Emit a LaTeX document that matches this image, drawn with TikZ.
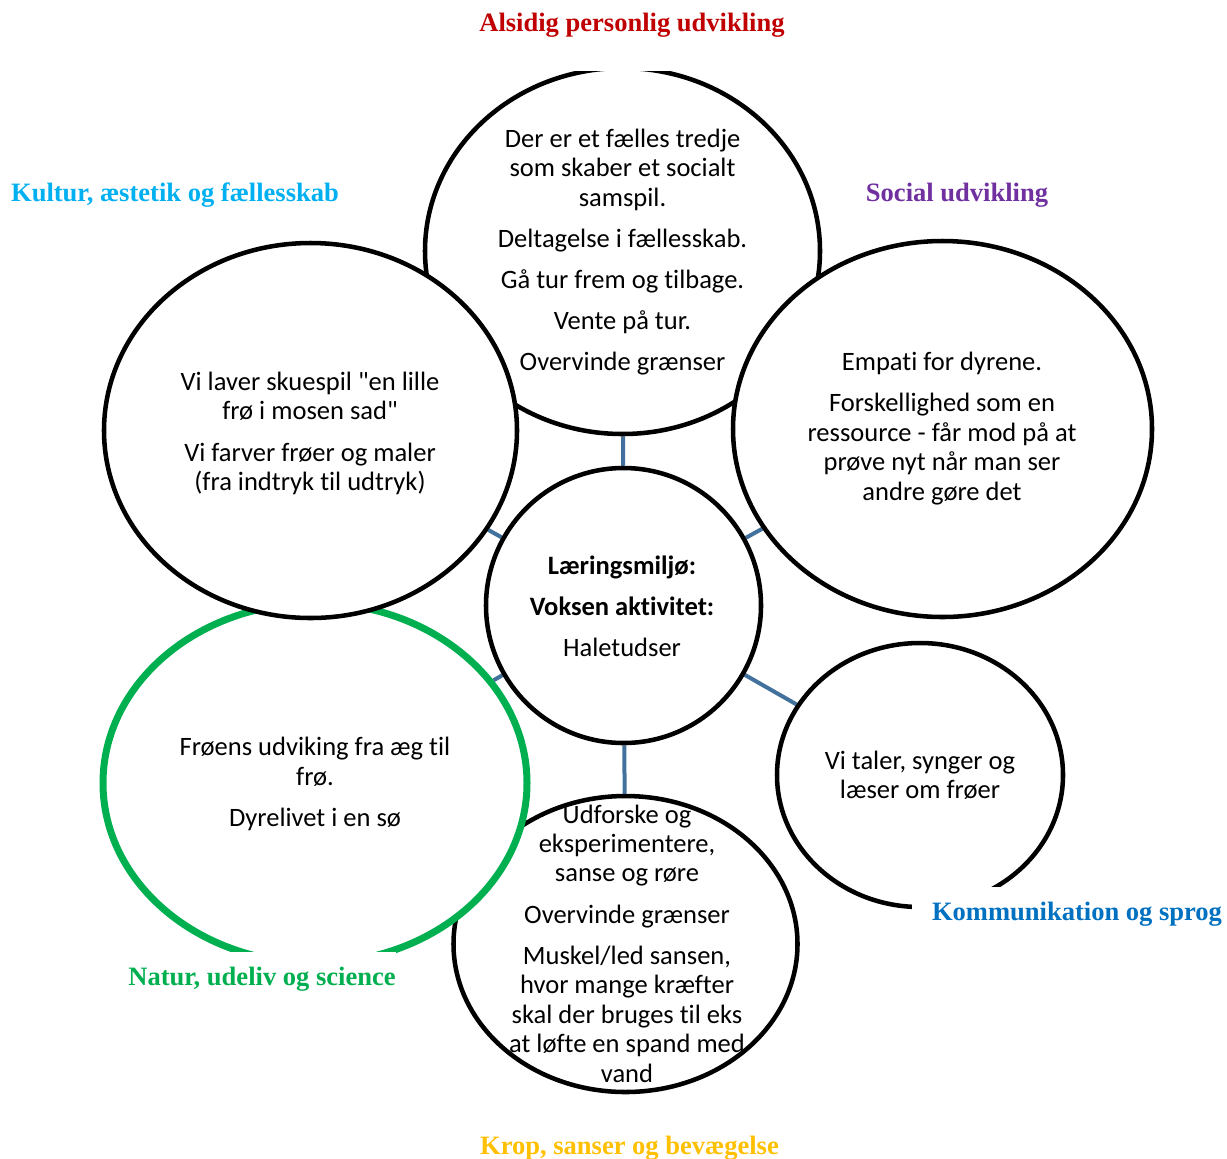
\documentclass[tikz,border=0pt]{standalone}
\usepackage{fontspec}
\setmainfont{Carlito}[Ligatures=NoCommon]
\newfontfamily\lblfont{Liberation Serif}
\usetikzlibrary{shapes.geometric,backgrounds}
\definecolor{lblred}{HTML}{C00000}
\definecolor{lblcyan}{HTML}{00B0F0}
\definecolor{lblpurple}{HTML}{7030A0}
\definecolor{lblblue}{HTML}{0070C0}
\definecolor{lblgreen}{HTML}{00B050}
\definecolor{lblgold}{HTML}{FFC000}
\definecolor{spokeblue}{HTML}{41719C}
\tikzset{every picture/.style={line width=0.75pt}}
\tikzset{
  bubble/.style={ellipse, draw=black, fill=white, line width=3.4pt, inner sep=0pt},
  bubbletxt/.style={align=center, inner sep=0pt, font=\fontsize{19.9}{22.1}\selectfont},
  spoke/.style={draw=spokeblue, line width=3pt},
  lbl/.style={font=\lblfont\bfseries\fontsize{19.9}{24}\selectfont, fill=white, inner sep=0pt, minimum height=40.5pt}
}

\begin{document}
\begin{tikzpicture}[x=0.75pt,y=0.75pt,yscale=-1,xscale=1]
\useasboundingbox (0,0) rectangle (1227,1158);

%Shape: Ellipse [alsidig]
\node[bubble, minimum width=296.25pt, minimum height=274.5pt] (alsidig) at (622.5,251) {};
%Shape: Ellipse [krop]
\node[bubble, minimum width=258pt, minimum height=222pt] (krop) at (625.5,944) {};
%Shape: Ellipse [natur]
\node[bubble, draw=lblgreen, line width=5.25pt, minimum width=318pt, minimum height=270pt] (natur) at (315,783) {};
%Shape: Ellipse [kultur]
\node[bubble, minimum width=309.75pt, minimum height=281.25pt] (kultur) at (310.5,430.5) {};
%Shape: Ellipse [social]
\node[bubble, minimum width=314.25pt, minimum height=282pt] (social) at (942.5,429) {};
%Shape: Circle [hub]
\node[bubble, minimum width=206.25pt, minimum height=206.25pt] (hub) at (623.5,605.5) {};
%Shape: Ellipse [komm]
\node[bubble, minimum width=214.5pt, minimum height=198pt] (komm) at (920,775) {};

%Straight Lines
\begin{scope}[on background layer]
\draw[spoke] (hub) -- (alsidig);
\draw[spoke] (hub) -- (kultur);
\draw[spoke] (hub) -- (social);
\draw[spoke] (hub) -- (natur);
\draw[spoke] (hub) -- (komm);
\draw[spoke] (hub) -- (krop);
\end{scope}

% Text Node
\node[bubbletxt] (alsidigtxt) at (622.5,252) {Der er et fælles tredje\\som skaber et socialt\\samspil.\\[8.8pt]Deltagelse i fællesskab.\\[8.8pt]Gå tur frem og tilbage.\\[8.8pt]Vente på tur.\\[8.8pt]Overvinde grænser};
% Text Node
\node[bubbletxt] (kulturtxt) at (310,433.5) {Vi laver skuespil \textquotedbl en lille\\frø i mosen sad\textquotedbl\\[8.8pt]Vi farver frøer og maler\\(fra indtryk til udtryk)};
% Text Node
\node[bubbletxt] (socialtxt) at (942,428.5) {Empati for dyrene.\\[8.8pt]Forskellighed som en\\ressource - får mod på at\\prøve nyt når man ser\\andre gøre det};
% Text Node
\node[bubbletxt] (hubtxt) at (622,606) {\textbf{Læringsmiljø:}\\[8.8pt]\textbf{Voksen aktivitet:}\\[8.8pt]Haletudser};
% Text Node
\node[bubbletxt] (naturtxt) at (315,784) {Frøens udviking fra æg til\\frø.\\[8.8pt]Dyrelivet i en sø};
% Text Node
\node[bubbletxt] (kommtxt) at (920,775) {Vi taler, synger og\\læser om frøer};
% Text Node
\node[bubbletxt] (kroptxt) at (627,943.5) {Udforske og\\eksperimentere,\\sanse og røre\\[8.8pt]Overvinde grænser\\[8.8pt]Muskel/led sansen,\\hvor mange kræfter\\skal der bruges til eks\\at løfte en spand med\\vand};

% Text Node
\node[lbl, text=lblred, minimum height=69pt] (alsidiglbl) at (632,25) {Alsidig personlig udvikling};
% Text Node
\node[lbl, text=lblcyan] (kulturlbl) at (175,195) {Kultur, æstetik og fællesskab};
% Text Node
\node[lbl, text=lblpurple] (sociallbl) at (957,195) {Social udvikling};
% Text Node
\node[lbl, text=lblblue, minimum width=247.5pt] (kommlbl) at (1077,914) {Kommunikation og sprog};
% Text Node
\node[lbl, text=lblgreen] (naturlbl) at (262,979) {Natur, udeliv og science};
% Text Node
\node[lbl, text=lblgold] (kroplbl) at (629.5,1148) {Krop, sanser og bevægelse};

\end{tikzpicture}
\end{document}
